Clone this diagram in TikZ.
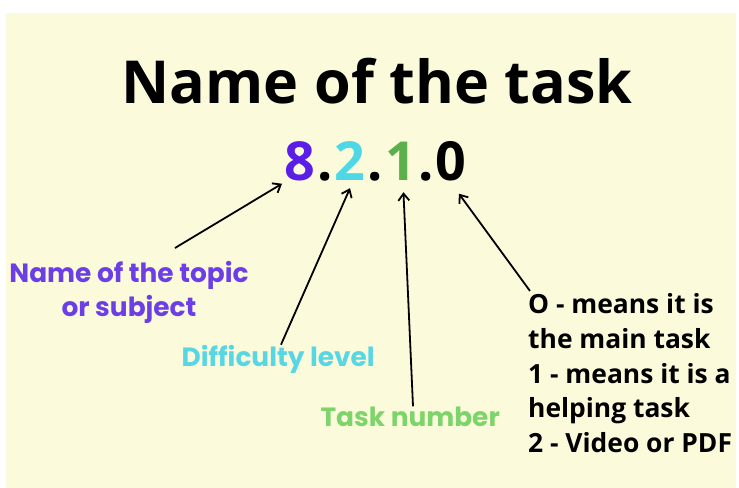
\documentclass[tikz,border=0pt]{standalone}
\usepackage{fontspec}
\setmainfont{Open Sans}
\newfontfamily\roundfont{Poppins}
\usetikzlibrary{positioning, arrows.meta}

\definecolor{paper}{HTML}{FBFBDC}
\definecolor{topicpurple}{HTML}{6C3FE6}
\definecolor{levelcyan}{HTML}{58D6E4}
\definecolor{numbergreen}{HTML}{7CD46A}
\definecolor{eightpurple}{HTML}{5A1EE6}
\definecolor{twocyan}{HTML}{4ED8E6}
\definecolor{onegreen}{HTML}{5DAF4C}

\begin{document}
\begin{tikzpicture}[x = 1bp, y = -1bp,
    every node/.style = { inner sep = 0pt, font = \bfseries },
    digit/.style = { font = \bfseries\fontsize{54}{54}\selectfont },
    tag/.style = { font = \roundfont\bfseries\fontsize{26.5}{34}\selectfont, align = center },
    pointer/.style = { line width = 1.8bp, -{Straight Barb[length = 7bp, width = 11bp]} }]

    \fill [white] (0,0) rectangle (739,488);
    \useasboundingbox (0,0) rectangle (739,488);
    \fill [paper] (6,13) rectangle (736,488);

    \node [anchor = base, font = \bfseries\fontsize{59.5}{60}\selectfont] (title) at (377,104) { Name of the task };

    % the number 8.2.1.0
    \node [digit, text = eightpurple, anchor = base west] (d8) at (284,181) { 8 };
    \node [digit, base right = 1.8bp of d8] (p1) { . };
    \node [digit, text = twocyan, base right = 1.8bp of p1] (d2) { 2 };
    \node [digit, base right = 1.8bp of d2] (p2) { . };
    \node [digit, text = onegreen, base right = 1.8bp of p2] (d1) { 1 };
    \node [digit, base right = 1.8bp of d1] (p3) { . };
    \node [digit, base right = 1.8bp of p3] (d0) { 0 };

    \node [tag, text = topicpurple, anchor = north] (topic) at (129,261) { Name of the topic \\ or subject };
    \node [tag, text = levelcyan, anchor = base] (level) at (281,366) { Difficulty level };
    \node [tag, text = numbergreen, anchor = base] (number) at (413,426) { Task number };
    \node [anchor = north west, align = left, font = \bfseries\fontsize{26.5}{35}\selectfont] (kind) at (528,293)
      { O - means it is \\ the main task \\ 1 - means it is a \\ helping task \\ 2 - Video or PDF };

    \draw [pointer] ([xshift = 46bp, yshift = 13bp]topic.north) -- ([xshift = -2bp, yshift = -2bp]d8.south west);
    \draw [pointer] (level.north) -- ([yshift = -7bp]d2.south);
    \draw [pointer] (number.north) -- ([xshift = 3bp, yshift = -11bp]d1.south);
    \draw [pointer] ([xshift = 2bp, yshift = 2bp]kind.north west) -- ([xshift = 8bp, yshift = -12bp]d0.south);

\end{tikzpicture}
\end{document}
